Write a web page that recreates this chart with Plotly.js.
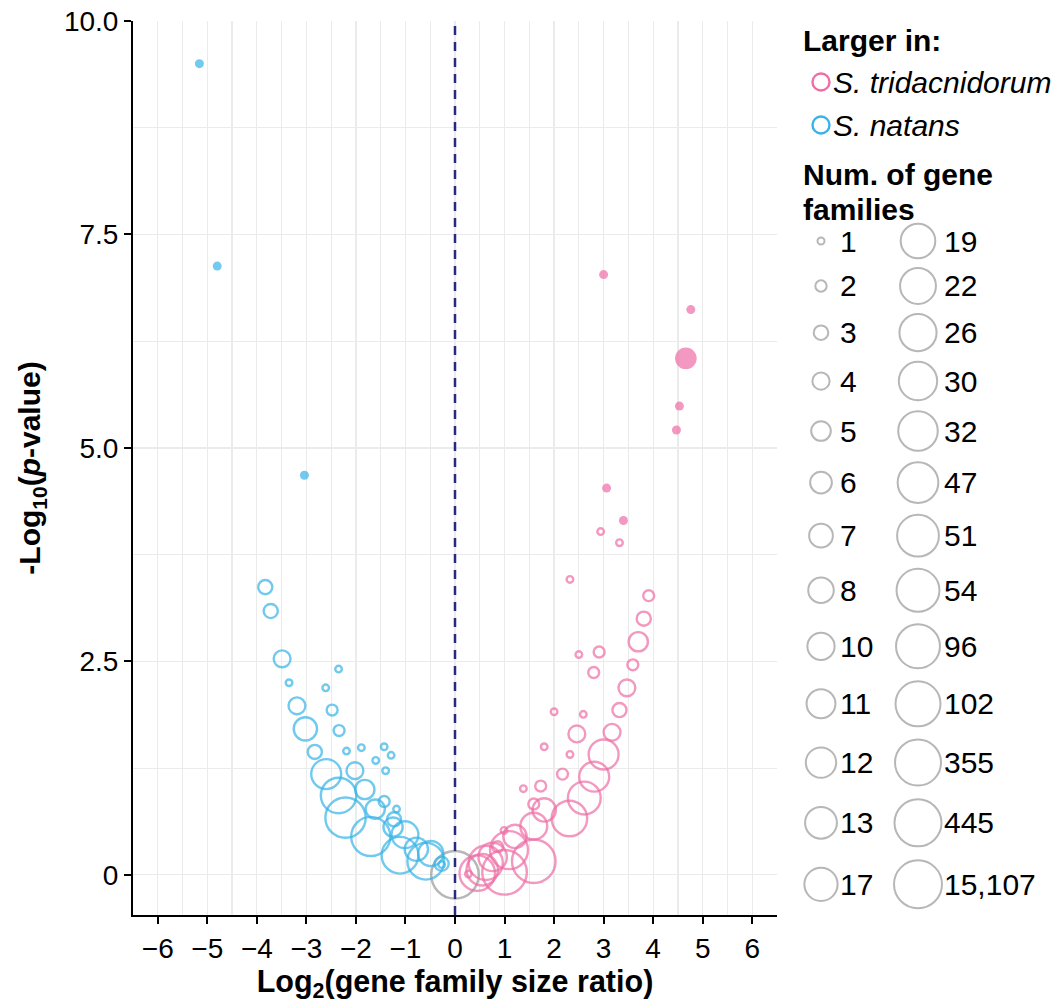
<!DOCTYPE html>
<html><head><meta charset="utf-8">
<script src="https://cdn.plot.ly/plotly-3.0.1.min.js"></script>
<style>html,body{margin:0;padding:0;background:#fff}</style>
</head><body><div id="chart" style="width:1063px;height:1004px"></div>
<script>
// ---- size legend levels (number of gene families) ----
const sizeLevels = [1,2,3,4,5,6,7,8,10,11,12,13,17,19,22,26,30,32,47,51,54,96,102,355,445,15107];
const sizeLabels = ['1','2','3','4','5','6','7','8','10','11','12','13','17','19','22','26','30','32','47','51','54','96','102','355','445','15,107'];

// ---- species ----
const speciesNames = ['S. tridacnidorum', 'S. natans'];

// ---- S. natans (larger in natans, negative ratio) ----
const natansX   = [-5.16,-4.80,-3.04,-3.83,-3.72,-3.49,-3.35,-2.35,-2.61,-3.19,-2.48,-3.02,-2.34,-2.83,-2.19,-1.89,-1.43,-1.29,-1.60,-1.40,-2.60,-2.02,-2.35,-1.82,-2.21,-1.43,-1.61,-1.18,-1.23,-1.70,-1.25,-1.01,-1.11,-0.78,-0.59,-0.49,-0.27,-0.27];
const natansY   = [9.50,7.13,4.68,3.37,3.09,2.53,2.25,2.41,2.19,1.98,1.93,1.71,1.69,1.44,1.45,1.49,1.50,1.40,1.34,1.22,1.18,1.22,0.93,1.00,0.67,0.86,0.77,0.77,0.65,0.45,0.56,0.47,0.23,0.30,0.16,0.25,0.13,0.12];
const natansN   = [1,1,1,3,3,4,1,1,1,4,2,7,2,3,1,1,1,1,1,1,12,4,22,5,47,2,5,1,3,32,5,10,26,7,26,8,3,1];
const natansSig = [1,1,1,0,0,0,0,0,0,0,0,0,0,0,0,0,0,0,0,0,0,0,0,0,0,0,0,0,0,0,0,0,0,0,0,0,0,0];

// ---- S. tridacnidorum (positive ratio) ----
const tridX   = [3.00,4.76,4.66,4.53,4.47,3.06,3.40,2.94,3.32,2.32,3.91,3.81,3.70,2.50,2.91,2.80,3.59,3.47,2.00,2.59,3.32,2.46,3.17,3.00,1.80,2.32,2.81,2.17,1.38,1.73,2.61,1.59,1.80,2.31,1.59,0.99,1.21,1.09,1.59,1.00,0.45,0.62,0.76,0.86,0.27,0.55];
const tridY   = [7.03,6.62,6.05,5.49,5.21,4.53,4.15,4.02,3.89,3.46,3.27,3.00,2.73,2.58,2.61,2.37,2.46,2.19,1.91,1.88,1.93,1.65,1.67,1.41,1.50,1.41,1.15,1.18,1.01,1.04,0.90,0.83,0.76,0.66,0.57,0.52,0.45,0.29,0.16,0.03,0.02,0.14,0.21,0.33,0.01,0.06];
const tridN   = [1,1,5,1,1,1,1,1,1,1,2,3,5,1,2,2,2,4,1,1,3,4,4,12,1,1,12,2,1,2,17,2,7,22,10,1,7,30,96,102,22,19,11,2,1,13];
const tridSig = [1,1,1,1,1,1,1,0,0,0,0,0,0,0,0,0,0,0,0,0,0,0,0,0,0,0,0,0,0,0,0,0,0,0,0,0,0,0,0,0,0,0,0,0,0,0];

// ---- no change ----
const zeroX = [0];
const zeroY = [0];
const zeroN = [15107];

// ---- axis ticks ----
const yTickVals = [0, 2.5, 5, 7.5, 10];
const yTickText = ['0', '2.5', '5.0', '7.5', '10.0'];
const xTickVals = [-6,-5,-4,-3,-2,-1,0,1,2,3,4,5,6];

// ---- styles ----
const PINK = '#ee6ea6', BLUE = '#36b4e8', GREY = '#999999';
const FONT = 'Liberation Sans, Arial, Helvetica, sans-serif';

// size scale: ordinal rank -> outer diameter (area linear in rank)
function outerD(n){ const r = sizeLevels.indexOf(n); return Math.sqrt(81 + 2419 * r / 25); }
const STROKE = 2.4;

function pick(arr, flags, v){ return arr.filter((_, i) => flags[i] === v); }

function pointTrace(xs, ys, ns, color, filled){
  return {
    type: 'scatter', mode: 'markers', x: xs, y: ys, xaxis: 'x', yaxis: 'y',
    hoverinfo: 'skip', showlegend: false, cliponaxis: false,
    marker: {
      symbol: 'circle',
      size: ns.map(n => filled ? outerD(n) : outerD(n) - STROKE),
      color: filled ? color : 'rgba(0,0,0,0)',
      line: {color: color, width: filled ? 0 : STROKE}
    }
  };
}

const traces = [];
traces.push(pointTrace(zeroX, zeroY, zeroN, GREY, false));
traces.push(pointTrace(pick(natansX, natansSig, 0), pick(natansY, natansSig, 0), pick(natansN, natansSig, 0), BLUE, false));
traces.push(pointTrace(pick(tridX, tridSig, 0), pick(tridY, tridSig, 0), pick(tridN, tridSig, 0), PINK, false));
traces.push(pointTrace(pick(natansX, natansSig, 1), pick(natansY, natansSig, 1), pick(natansN, natansSig, 1), BLUE, true));
traces.push(pointTrace(pick(tridX, tridSig, 1), pick(tridY, tridSig, 1), pick(tridN, tridSig, 1), PINK, true));

// ---- custom legend on a pixel-like secondary axis pair ----
// x2 value == page pixel x (777..1053), y2 value == page pixel y (21..915)
const annotations = [];
const legFont = {family: FONT, size: 30, color: '#000'};
function legText(x, y, text, extra){
  annotations.push(Object.assign({xref:'x2', yref:'y2', x:x, y:y, text:text, showarrow:false,
    xanchor:'left', yanchor:'middle', font: legFont, borderpad:0}, extra || {}));
}
legText(802, 40, '<b>Larger in:</b>');
legText(802, 174, '<b>Num. of gene</b>');
legText(802, 209, '<b>families</b>');

// species keys
const spY = [82, 125];
traces.push({
  type:'scatter', mode:'markers', x:[821, 821], y:spY, xaxis:'x2', yaxis:'y2',
  hoverinfo:'skip', showlegend:false, cliponaxis:false,
  marker:{symbol:'circle', size:17, color:'rgba(0,0,0,0)', line:{color:[PINK, BLUE], width:2.4}}
});
speciesNames.forEach((s, i) => legText(832, spY[i], '<i>' + s + '</i>'));

// size keys: two columns of 13
const nRows = Math.ceil(sizeLevels.length / 2);
const rowY = [];
let yy = 241;
for (let i = 0; i < nRows; i++){
  const dmax = Math.max(outerD(sizeLevels[i]), sizeLevels[i + nRows] !== undefined ? outerD(sizeLevels[i + nRows]) : 0);
  const h = 1.35 * dmax - 5.3;
  if (i > 0) yy += (rowY[i-1].h + h) / 2;
  rowY.push({y: yy, h: h});
}
const keyX = [], keyY = [], keyS = [];
sizeLevels.forEach((n, k) => {
  const col = Math.floor(k / nRows), row = k % nRows;
  keyX.push(col === 0 ? 821 : 918);
  keyY.push(rowY[row].y);
  keyS.push(outerD(n) - 2);
  legText(col === 0 ? 839 : 943, rowY[row].y, sizeLabels[k]);
});
traces.push({
  type:'scatter', mode:'markers', x:keyX, y:keyY, xaxis:'x2', yaxis:'y2',
  hoverinfo:'skip', showlegend:false, cliponaxis:false,
  marker:{symbol:'circle', size:keyS, color:'rgba(0,0,0,0)', line:{color:GREY, width:2}}
});

const GRID = '#ebebeb';
const layout = {
  width: 1063, height: 1004,
  margin: {l: 133, r: 10, t: 21, b: 89},
  paper_bgcolor: '#fff', plot_bgcolor: '#fff',
  font: {family: FONT, color: '#000'},
  showlegend: false,
  xaxis: {
    domain: [0, 0.7], range: [-6.5, 6.5], tickmode: 'array', tickvals: xTickVals,
    showgrid: true, gridcolor: GRID, gridwidth: 1.2,
    minor: {dtick: 0.5, tick0: 0, showgrid: true, gridcolor: GRID, gridwidth: 1.2, ticks: ''},
    zeroline: false, showline: true, linecolor: '#000', linewidth: 2,
    ticks: 'outside', ticklen: 7, tickwidth: 2, tickcolor: '#000',
    tickfont: {size: 28, family: FONT}, automargin: false,
    title: {text: '<b>Log<sub>2</sub>(gene family size ratio)</b>', font: {size: 30.5, family: FONT}, standoff: 8}
  },
  yaxis: {
    range: [-0.47, 10], tickmode: 'array', tickvals: yTickVals, ticktext: yTickText,
    showgrid: true, gridcolor: GRID, gridwidth: 1.2,
    minor: {dtick: 1.25, tick0: 0, showgrid: true, gridcolor: GRID, gridwidth: 1.2, ticks: ''},
    zeroline: false, showline: true, linecolor: '#000', linewidth: 2,
    ticks: 'outside', ticklen: 7, tickwidth: 2, tickcolor: '#000',
    tickfont: {size: 28, family: FONT}, automargin: false,
    title: {text: '<b>-Log<sub>10</sub>(<i>p</i>-value)</b>', font: {size: 30, family: FONT}, standoff: 14}
  },
  xaxis2: {domain: [0.7, 1], range: [777, 1053], visible: false, fixedrange: true, anchor: 'y2'},
  yaxis2: {domain: [0, 1], range: [915, 21], visible: false, fixedrange: true, anchor: 'x2'},
  shapes: [{type: 'line', xref: 'x', yref: 'y domain', x0: 0, x1: 0, y0: 0, y1: 1,
            line: {color: '#262b7c', width: 2.5, dash: '9px,7px'}, layer: 'above'}],
  annotations: annotations
};

Plotly.newPlot('chart', traces, layout, {displayModeBar: false, staticPlot: true});
</script>
</body></html>
